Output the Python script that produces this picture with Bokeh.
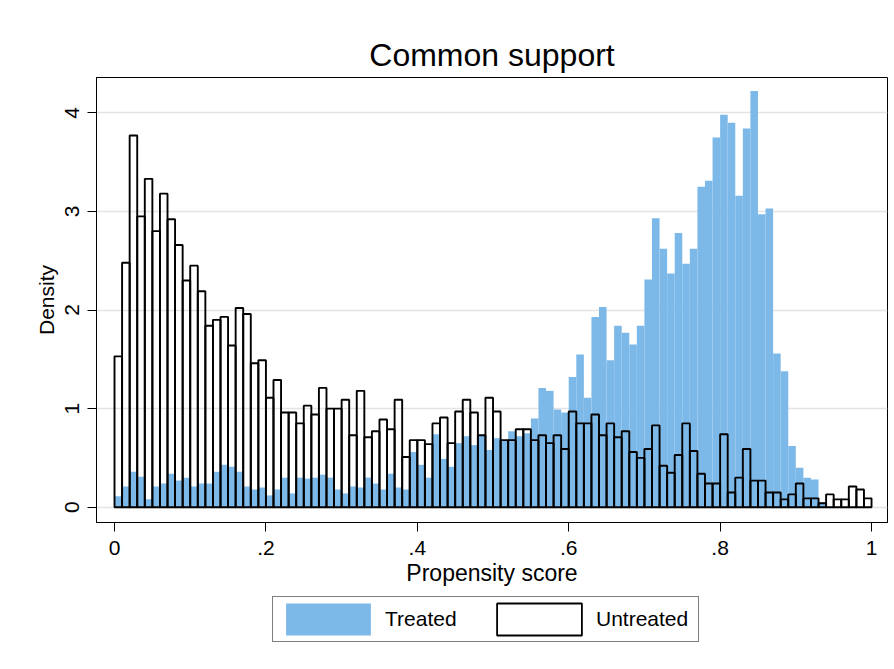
import numpy as np
from bokeh.plotting import figure
from bokeh.layouts import column
from bokeh.models import Range1d, FixedTicker, Legend, LegendItem
from bokeh.embed import file_html
from bokeh.resources import INLINE

# Histogram densities, 100 bins of width .01 on [0, 1]
untreated = [1.53, 2.48, 3.77, 2.95, 3.33, 2.80, 3.18, 2.92, 2.66, 2.30,
             2.45, 2.19, 1.84, 1.90, 1.93, 1.64, 2.02, 1.96, 1.46, 1.49,
             1.11, 1.29, 0.96, 0.96, 0.85, 1.03, 0.94, 1.21, 1.00, 1.00,
             1.09, 0.73, 1.18, 0.71, 0.77, 0.89, 0.79, 1.09, 0.51, 0.68,
             0.68, 0.64, 0.85, 0.91, 0.65, 0.97, 1.09, 0.96, 0.73, 1.11,
             0.97, 0.68, 0.68, 0.79, 0.79, 0.68, 0.73, 0.65, 0.73, 0.59,
             0.97, 0.85, 0.85, 0.94, 0.73, 0.85, 0.71, 0.77, 0.56, 0.50,
             0.59, 0.83, 0.42, 0.35, 0.53, 0.85, 0.57, 0.34, 0.24, 0.24,
             0.74, 0.15, 0.30, 0.59, 0.27, 0.27, 0.15, 0.15, 0.08, 0.13,
             0.24, 0.09, 0.09, 0.04, 0.13, 0.08, 0.08, 0.21, 0.18, 0.09]
treated = [0.11, 0.21, 0.36, 0.31, 0.08, 0.21, 0.24, 0.34, 0.27, 0.30,
           0.21, 0.24, 0.24, 0.36, 0.43, 0.41, 0.36, 0.21, 0.18, 0.20,
           0.12, 0.18, 0.30, 0.14, 0.30, 0.29, 0.30, 0.33, 0.30, 0.18,
           0.14, 0.21, 0.20, 0.30, 0.24, 0.18, 0.34, 0.20, 0.18, 0.56,
           0.43, 0.30, 0.74, 0.49, 0.41, 0.65, 0.72, 0.63, 0.73, 0.58,
           0.70, 0.68, 0.77, 0.72, 0.75, 0.90, 1.21, 1.18, 0.99, 0.96,
           1.32, 1.55, 1.11, 1.93, 2.03, 1.49, 1.84, 1.77, 1.65, 1.84,
           2.31, 2.93, 2.62, 2.37, 2.78, 2.47, 2.62, 3.25, 3.31, 3.75,
           3.98, 3.90, 3.16, 3.84, 4.22, 2.97, 3.03, 1.56, 1.38, 0.62,
           0.40, 0.30, 0.28, 0.05, 0.0, 0.0, 0.0, 0.0, 0.0, 0.0]
bin_edges = np.linspace(0.0, 1.0, len(untreated) + 1)

x_ticks = [0, 0.2, 0.4, 0.6, 0.8, 1.0]
x_tick_labels = ["0", ".2", ".4", ".6", ".8", "1"]
y_ticks = [0, 1, 2, 3, 4]
series_names = ["Treated", "Untreated"]

FONT = "Liberation Sans"
BLUE = "#7db9e8"

p = figure(width=890, height=593, output_backend="svg", toolbar_location=None,
           x_range=Range1d(-0.0238, 1.0211), y_range=Range1d(-0.155, 4.358),
           min_border_left=96, min_border_right=3, min_border_top=77,
           min_border_bottom=71, background_fill_color="white",
           border_fill_color="white")

p.title.text = "Common support"
p.title.align = "center"
p.title.text_font = FONT
p.title.text_font_size = "32px"
p.title.text_font_style = "normal"
p.title.text_color = "black"
p.title.standoff = 10

p.quad(left=bin_edges[:-1], right=bin_edges[1:], top=treated, bottom=0,
       fill_color=BLUE, line_color=None)
p.quad(left=bin_edges[:-1], right=bin_edges[1:], top=untreated, bottom=0,
       fill_color=None, line_color="black", line_width=1.9)

p.outline_line_color = "black"
p.outline_line_width = 1
p.xgrid.visible = False
p.ygrid.ticker = FixedTicker(ticks=y_ticks)
p.ygrid.grid_line_color = "#e4e4e4"
p.ygrid.grid_line_width = 1.5

p.xaxis.ticker = FixedTicker(ticks=x_ticks)
p.xaxis.major_label_overrides = {t: l for t, l in zip(x_ticks, x_tick_labels)}
p.yaxis.ticker = FixedTicker(ticks=y_ticks)
p.yaxis.major_label_orientation = "vertical"

for ax in (p.xaxis[0], p.yaxis[0]):
    ax.axis_line_color = "black"
    ax.axis_line_width = 1
    ax.major_tick_out = 9
    ax.major_tick_in = 0
    ax.major_tick_line_color = "black"
    ax.minor_tick_line_color = None
    ax.major_label_text_font = FONT
    ax.major_label_text_font_size = "21px"
    ax.major_label_text_color = "black"
    ax.axis_label_text_font = FONT
    ax.axis_label_text_font_style = "normal"
    ax.axis_label_text_color = "black"

p.xaxis.axis_label = "Propensity score"
p.xaxis.axis_label_text_font_size = "23px"
p.xaxis.major_label_standoff = 9
p.xaxis.axis_label_standoff = 2
p.yaxis.axis_label = "Density"
p.yaxis.axis_label_text_font_size = "21px"
p.yaxis.major_label_standoff = 8
p.yaxis.axis_label_standoff = 5

# Legend strip below the chart (its key glyphs reuse the series, kept out of view)
lg = figure(width=890, height=60, output_backend="svg", toolbar_location=None,
            x_range=Range1d(0, 1), y_range=Range1d(-20, -19),
            x_axis_type=None, y_axis_type=None, min_border=0,
            background_fill_color="white", border_fill_color="white")
lg.outline_line_color = None
lg.grid.visible = False
k_t = lg.quad(left=bin_edges[:-1], right=bin_edges[1:], top=treated, bottom=0,
              fill_color=BLUE, line_color=None)
k_u = lg.quad(left=bin_edges[:-1], right=bin_edges[1:], top=untreated, bottom=0,
              fill_color="white", line_color="black", line_width=1.8)
legend = Legend(items=[LegendItem(label=series_names[0], renderers=[k_t]),
                       LegendItem(label=series_names[1], renderers=[k_u])],
                orientation="horizontal", location=(176, 11),
                padding=2, margin=0, spacing=1, glyph_width=106,
                glyph_height=40, label_standoff=4, label_width=100,
                label_text_font=FONT, label_text_font_size="21px",
                label_text_color="black", border_line_color="black",
                border_line_width=1, background_fill_color="white",
                background_fill_alpha=1.0)
lg.add_layout(legend)

layout = column(p, lg, spacing=0)
open("out.html", "w").write(file_html(layout, INLINE))
